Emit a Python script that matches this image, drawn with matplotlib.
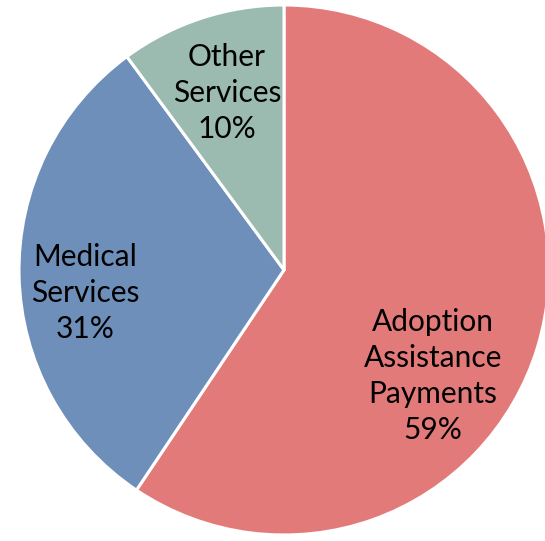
import matplotlib.pyplot as plt

labels = ["Adoption\nAssistance\nPayments", "Medical\nServices", "Other\nServices"]
shares = [59.4, 30.5, 10.1]
pct_text = ["59%", "31%", "10%"]   # as printed on the chart
colors = ["#e37a7a", "#6e8fba", "#9bbab0"]

# label centres in pixel coords (x from left, y from top)
label_px = [(433, 376), (85, 293), (227, 93)]

W, H = 545, 541
CX, CY, R = 284, 270, 265

fig = plt.figure(figsize=(W / 100, H / 100), dpi=100)
ax = fig.add_axes([0, 0, 1, 1])

ax.pie(shares, colors=colors, startangle=90, counterclock=False, radius=1,
       wedgeprops=dict(edgecolor="white", linewidth=2.2))

ax.set_aspect("auto")
ax.set_xlim(-CX / R, (W - CX) / R)
ax.set_ylim((CY - H) / R, CY / R)
ax.axis("off")

for lab, pct, (px, py) in zip(labels, pct_text, label_px):
    ax.text((px - CX) / R, (CY - py) / R, f"{lab}\n{pct}", ha="center", va="center",
            fontsize=21.5, family="Lato", linespacing=1.36, color="black")

fig.savefig("out.png", dpi=100, facecolor="white")
